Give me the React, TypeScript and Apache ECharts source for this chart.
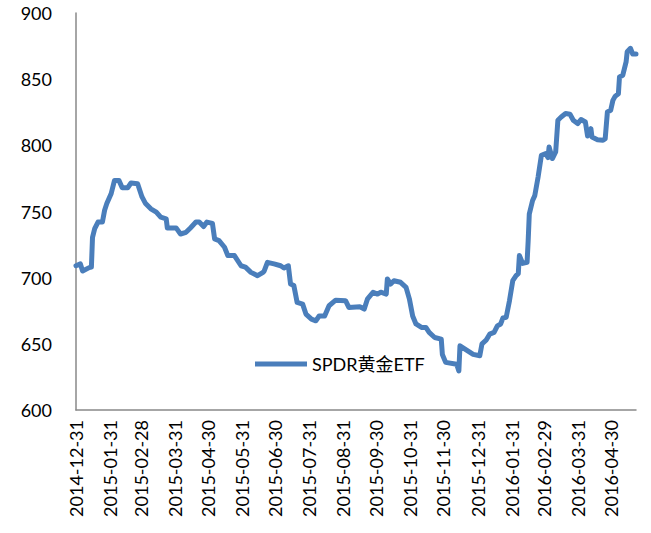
import React, { useEffect, useRef } from "react";
import * as echarts from "echarts";

// Day offsets from 2014-12-31 and SPDR gold ETF holdings (tonnes)
const dayOffsets = [
  0, 4, 6, 12, 14, 15, 17, 20, 24, 26, 28, 32, 35, 39, 42, 47, 50, 56, 60, 63,
  68, 73, 77, 82, 83, 91, 95, 100, 104, 109, 112, 116, 119, 124, 126, 130, 135, 138, 144, 150,
  154, 159, 165, 170, 171, 174, 180, 186, 189, 193, 195, 198, 201, 206, 209, 214, 218, 221, 226, 230,
  236, 245, 248, 258, 262, 265, 270, 274, 277, 282, 283, 286, 289, 295, 300, 303, 306, 309, 314, 318,
  321, 326, 332, 333, 336, 346, 348, 349, 355, 361, 367, 369, 373, 376, 380, 383, 386, 388, 391, 394,
  397, 400, 402, 403, 406, 410, 411, 412, 415, 417, 420, 423, 427, 429, 430, 433, 436, 438, 441, 445,
  449, 452, 456, 459, 463, 465, 468, 469, 474, 479, 481, 483, 486, 488, 490, 493, 494, 497, 500, 501,
  504, 506, 509,
];
const values = [
  709, 710.4, 705, 707.6, 708, 730.5, 737, 742, 742, 751, 756, 763.6, 773.5, 773.5, 768, 768, 771.5, 771, 761, 756.3,
  752, 749.5, 745.7, 744.5, 737.6, 737.6, 733, 734.3, 737.6, 742, 742, 738.6, 742, 741, 729.3, 728, 723, 716.7, 716.7, 709,
  708, 704, 701.5, 704, 705, 711.6, 710.4, 709, 707.3, 709, 695.2, 694, 681.3, 680, 672.5, 668.7, 667.4, 671, 671, 678.8,
  683, 682.6, 677.5, 678, 676.3, 684, 689, 687.6, 689, 687.6, 699, 695.2, 697.7, 696.5, 692.7, 684, 671, 665, 662.4, 662.4,
  658.6, 654.8, 653.6, 642, 636, 634.6, 629.5, 648.5, 645.2, 642, 641, 650, 653, 657.3, 658.6, 663.6, 665, 669.5, 670, 682.6,
  697.7, 701.5, 703, 716.7, 710.8, 711.6, 728, 748, 758.3, 762, 776, 792.4, 793.7, 790.7, 798.7, 790, 795, 819, 821.4, 824,
  823.5, 819, 816.4, 819.5, 817.6, 807, 812.6, 806.3, 804.3, 803.8, 805, 825.2, 826.5, 834, 837, 839, 851.7, 853, 863, 870.7,
  873.3, 869, 869,
];
const seriesName = "SPDR黄金ETF";
const lastLabelDate = "2016-04-30";
const yTicks = { min: 600, max: 900, interval: 50 };

const startMs = Date.UTC(2014, 11, 31);
const totalDays = 510;
const pad = (n: number) => (n < 10 ? "0" + n : "" + n);
const fmt = (d: Date) =>
  `${d.getUTCFullYear()}-${pad(d.getUTCMonth() + 1)}-${pad(d.getUTCDate())}`;
const categories = Array.from({ length: totalDays }, (_, i) =>
  fmt(new Date(startMs + i * 86400000))
);
const isMonthEnd = (i: number) =>
  new Date(startMs + (i + 1) * 86400000).getUTCDate() === 1;

const FONT = "Lato, 'Noto Sans CJK SC', sans-serif";

export default function App() {
  const ref = useRef<HTMLDivElement>(null);
  useEffect(() => {
    if (!ref.current) return;
    const chart = echarts.init(ref.current, null, { renderer: "svg" });
    chart.setOption({
      animation: false,
      backgroundColor: "#ffffff",
      textStyle: { fontFamily: FONT },
      grid: { left: 76, right: 15, top: 13, bottom: 123, containLabel: false },
      legend: {
        data: [seriesName],
        left: 250,
        top: 350,
        icon: "rect",
        itemWidth: 52,
        itemHeight: 5,
        textStyle: { fontFamily: FONT, fontSize: 18, color: "#000" },
      },
      xAxis: {
        type: "category",
        data: categories,
        boundaryGap: false,
        axisLine: { lineStyle: { color: "#898989", width: 1.5 } },
        axisTick: { show: false },
        splitLine: { show: false },
        axisLabel: {
          rotate: 90,
          margin: 10,
          fontSize: 18,
          color: "#000",
          fontFamily: FONT,
          interval: (index: number, value: string) =>
            isMonthEnd(index) && value <= lastLabelDate,
        },
      },
      yAxis: {
        type: "value",
        min: yTicks.min,
        max: yTicks.max,
        interval: yTicks.interval,
        axisLine: { show: true, lineStyle: { color: "#898989", width: 1.5 } },
        axisTick: { show: false },
        splitLine: { show: false },
        axisLabel: { margin: 24, fontSize: 18, color: "#000", fontFamily: FONT },
      },
      series: [
        {
          name: seriesName,
          type: "line",
          data: dayOffsets.map((d, i) => [categories[d], values[i]]),
          showSymbol: false,
          symbol: "none",
          itemStyle: { color: "#4A7EBB" },
          lineStyle: { color: "#4A7EBB", width: 5, join: "round", cap: "round" },
        },
      ],
    });
    return () => chart.dispose();
  }, []);
  return (
    <div
      ref={ref}
      style={{ position: "fixed", left: 0, top: 0, width: 651, height: 533 }}
    />
  );
}
